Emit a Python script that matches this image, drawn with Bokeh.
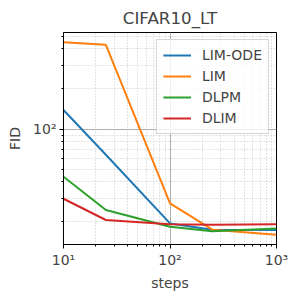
from bokeh.plotting import figure
from bokeh.models import Range1d, FixedTicker
from bokeh.embed import file_html
from bokeh.resources import INLINE
import math

steps = [10, 25, 100, 250, 1000]
lim_ode = [139, 64, 19.5, 17.5, 17.4]
lim = [450, 430, 27.6, 17.5, 16.0]
dlpm = [43.8, 24.6, 18.4, 17.0, 17.9]
dlim = [29.9, 20.7, 19.2, 19.1, 19.2]

series = [("LIM-ODE", lim_ode, "#1f77b4"),
          ("LIM", lim, "#ff7f0e"),
          ("DLPM", dlpm, "#2ca02c"),
          ("DLIM", dlim, "#d62728")]

x_major = [10, 100, 1000]
y_major = [10, 100, 1000]
x_labels = {10: "10\u00b9", 100: "10\u00b2", 1000: "10\u00b3"}
y_labels = {10: "10\u00b9", 100: "10\u00b2", 1000: "10\u00b3"}

allv = [v for _, s, _ in series for v in s]
lo, hi = math.log10(min(allv)), math.log10(max(allv))
m = (hi - lo) * 0.05

FONT = "DejaVu Sans"

p = figure(frame_width=213, frame_height=212, x_axis_type="log", y_axis_type="log",
           x_range=Range1d(10, 1000), y_range=Range1d(10 ** (lo - m), 10 ** (hi + m)),
           output_backend="svg", toolbar_location=None, title="CIFAR10_LT",
           min_border_left=63, min_border_right=12, min_border_top=24, min_border_bottom=49)

for name, vals, col in series:
    p.line(steps, vals, line_color=col, line_width=2, legend_label=name)

minor = [k * 10 ** e for e in range(0, 4) for k in range(2, 10)]
p.xaxis.ticker = FixedTicker(ticks=x_major, minor_ticks=minor)
p.yaxis.ticker = FixedTicker(ticks=y_major, minor_ticks=minor)
p.xaxis.major_label_overrides = x_labels
p.yaxis.major_label_overrides = y_labels
p.xaxis.axis_label = "steps"
p.yaxis.axis_label = "FID"

for ax in [p.xaxis, p.yaxis]:
    ax.major_label_text_font = FONT
    ax.major_label_text_font_size = "14px"
    ax.axis_label_text_font = FONT
    ax.axis_label_text_font_size = "14px"
    ax.axis_label_text_font_style = "normal"
    ax.major_tick_in = 0
    ax.major_tick_out = 4
    ax.minor_tick_in = 0
    ax.minor_tick_out = 2
    ax.major_label_standoff = 3
    ax.axis_label_standoff = 4
    ax.axis_line_color = "black"
    ax.major_tick_line_color = "black"
    ax.minor_tick_line_color = "black"

p.yaxis.axis_label_standoff = 7
p.yaxis.major_label_orientation = "horizontal"

for g in [p.xgrid, p.ygrid]:
    g.grid_line_color = "#b0b0b0"
    g.grid_line_width = 1
    g.minor_grid_line_color = "#c8c8c8"
    g.minor_grid_line_dash = "1 2"
    g.minor_grid_line_width = 1

p.outline_line_color = "black"
p.outline_line_width = 1
p.outline_line_alpha = 1

p.title.text_font = FONT
p.title.text_font_size = "16.7px"
p.title.text_font_style = "normal"
p.title.align = "center"

lg = p.legend[0]
lg.location = "top_right"
lg.margin = 7
lg.padding = 6
lg.spacing = 3
lg.label_text_font = FONT
lg.label_text_font_size = "14px"
lg.glyph_width = 28
lg.glyph_height = 18
lg.label_height = 18
lg.label_standoff = 11
lg.border_line_color = "#cccccc"
lg.border_line_alpha = 0.8
lg.background_fill_alpha = 0.8

p.background_fill_color = "white"
p.border_fill_color = "white"

open("out.html", "w").write(file_html(p, INLINE))
